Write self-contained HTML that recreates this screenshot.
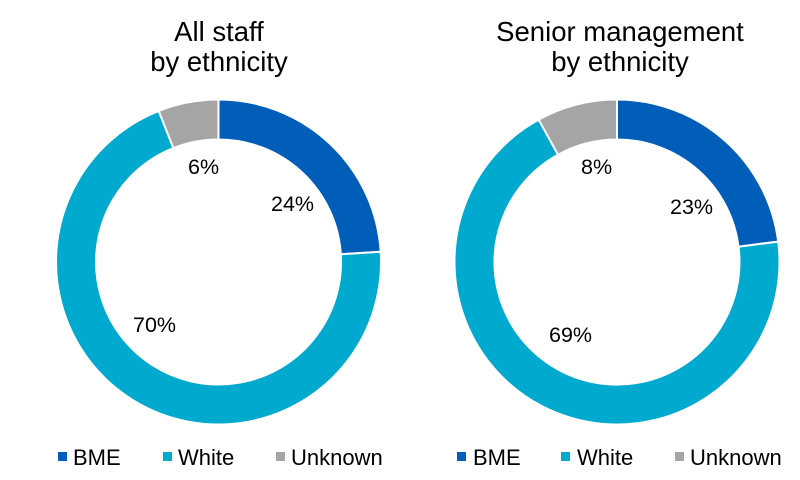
<!DOCTYPE html>
<html><head><meta charset="utf-8"><style>
html,body{margin:0;padding:0;background:#fff;}
svg{display:block;font-family:"Liberation Sans",Arial,sans-serif;}
</style></head><body>
<svg width="800" height="480" viewBox="0 0 800 480">
<g font-size="27.5" text-anchor="middle" fill="#000">
<text x="219" y="41">All staff</text>
<text x="219" y="71">by ethnicity</text>
<text x="620" y="41">Senior management</text>
<text x="620" y="71">by ethnicity</text>
</g>
<g stroke="#fff" stroke-width="2" stroke-linejoin="round">
<path d="M218.5 99.5 A162.5 162.5 0 0 1 380.7 251.8 L340.8 254.3 A122.5 122.5 0 0 0 218.5 139.5 Z" fill="#005EB8"/>
<path d="M380.7 251.8 A162.5 162.5 0 1 1 158.7 110.9 L173.4 148.1 A122.5 122.5 0 1 0 340.8 254.3 Z" fill="#00A9CE"/>
<path d="M158.7 110.9 A162.5 162.5 0 0 1 218.5 99.5 L218.5 139.5 A122.5 122.5 0 0 0 173.4 148.1 Z" fill="#A5A5A5"/>
<path d="M617 99.5 A162.5 162.5 0 0 1 778.2 241.6 L738.5 246.7 A122.5 122.5 0 0 0 617 139.5 Z" fill="#005EB8"/>
<path d="M778.2 241.6 A162.5 162.5 0 1 1 538.7 119.6 L558 154.7 A122.5 122.5 0 1 0 738.5 246.7 Z" fill="#00A9CE"/>
<path d="M538.7 119.6 A162.5 162.5 0 0 1 617 99.5 L617 139.5 A122.5 122.5 0 0 0 558 154.7 Z" fill="#A5A5A5"/>
</g>
<g font-size="21.5" fill="#000">
<text x="188" y="174">6%</text>
<text x="271" y="211">24%</text>
<text x="133" y="332">70%</text>
<text x="581" y="174">8%</text>
<text x="670" y="214">23%</text>
<text x="549" y="342">69%</text>
</g>
<g font-size="22" fill="#000">
<rect x="58" y="452" width="9" height="9" fill="#005EB8"/><text x="73" y="465">BME</text>
<rect x="163" y="452" width="9" height="9" fill="#00A9CE"/><text x="178" y="465">White</text>
<rect x="276" y="452" width="9" height="9" fill="#A5A5A5"/><text x="291" y="465">Unknown</text>
<rect x="457" y="452" width="9" height="9" fill="#005EB8"/><text x="473" y="465">BME</text>
<rect x="561" y="452" width="9" height="9" fill="#00A9CE"/><text x="577" y="465">White</text>
<rect x="675" y="452" width="9" height="9" fill="#A5A5A5"/><text x="690" y="465">Unknown</text>
</g>
</svg>
</body></html>
